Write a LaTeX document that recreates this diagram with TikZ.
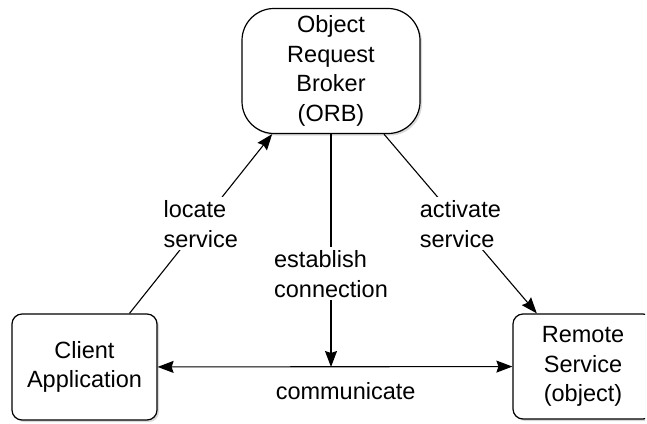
\documentclass[tikz,border=0pt]{standalone}
\usepackage{fontspec}
\setmainfont{Liberation Sans}
\usetikzlibrary{arrows.meta, positioning, shadows, calc}

\begin{document}
\begin{tikzpicture}[
    x=1pt, y=1pt,
    box/.style={draw, rectangle, rounded corners=10pt, line width=1.2pt, fill=white, align=center, font=\fontsize{23.5}{29.5}\selectfont, drop shadow={opacity=0.3, shadow xshift=2pt, shadow yshift=-2pt}},
    arrow/.style={line width=1.1pt, >={Stealth[length=16pt, width=12pt, inset=2pt]}, ->},
    lbl/.style={fill=white, align=left, inner sep=3pt, font=\fontsize{23.5}{30}\selectfont}
]
    \useasboundingbox (0,0) rectangle (647,-423);
    \clip (0,0) rectangle (645,-423);

    % ORB
    \node[box, rounded corners=32pt, minimum width=178pt, minimum height=125pt] (orb) at (331,-71) {Object\\Request\\Broker\\(ORB)};

    % Client
    \node[box, minimum width=145pt, minimum height=106pt] (client) at (84.5,-367) {Client\\Application};

    % Remote object (runs past the right edge)
    \node[box, minimum height=105pt, text width=140pt, inner xsep=0pt] (remote) at (583,-366.5) {Remote\\Service\\(object)};

    % Arrows with labels
    \draw[arrow, <->] (client) -- node[lbl, pos=0.53, below=12pt, fill=none] {communicate} (remote);
    \coordinate (meet) at (orb.south |- client.east);
    \draw[arrow] (client.50) -- node[lbl] {locate\\service} (orb.227);
    \draw[arrow] (orb.310) -- node[lbl] {activate\\service} (remote.131);
    \draw[arrow] (orb.south) -- node[lbl, pos=0.6] {establish\\connection} (meet);

\end{tikzpicture}
\end{document}
